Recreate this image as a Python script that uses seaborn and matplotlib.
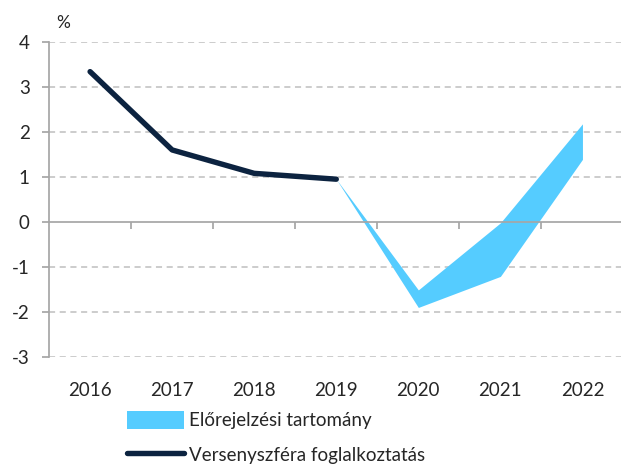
import matplotlib
matplotlib.use("Agg")
import matplotlib.pyplot as plt
import seaborn as sns
import pandas as pd

years = ["2016", "2017", "2018", "2019", "2020", "2021", "2022"]
actual = [3.34, 1.6, 1.08, 0.95]
band_years = ["2019", "2020", "2021", "2022"]
band_low = [0.95, -1.9, -1.21, 1.39]
band_high = [0.95, -1.51, -0.02, 2.18]

sns.set_theme(style="white")
plt.rcParams["font.family"] = ["Lato", "DejaVu Sans"]

pos = {y: i for i, y in enumerate(years)}
df_line = pd.DataFrame({"x": [pos[y] for y in years[:len(actual)]], "v": actual})
bx = [pos[y] for y in band_years]

fig = plt.figure(figsize=(6.21, 4.66), dpi=100)
ax = fig.add_axes([0.079, 0.234, 0.925, 0.676])

ax.fill_between(bx, band_low, band_high, color="#55ccff", linewidth=0,
                label="Előrejelzési tartomány", zorder=2)
sns.lineplot(data=df_line, x="x", y="v", ax=ax, color="#0c2340", linewidth=3.9,
             label="Versenyszféra foglalkoztatás", zorder=3,
             solid_capstyle="round")

ax.set_xlim(-0.5, 6.5)
ax.set_ylim(-3, 4)
ax.set_yticks(range(-3, 5))
ax.set_yticklabels([str(v) for v in range(-3, 5)], fontsize=13.5)
for v in range(-3, 5):
    if v != 0:
        ax.axhline(v, color="#bfbfbf", linestyle=(0, (4, 3)), linewidth=1.1, zorder=1)

for s in ["top", "right"]:
    ax.spines[s].set_visible(False)
ax.spines["left"].set_color("#a6a6a6")
ax.spines["bottom"].set_color("#a6a6a6")
ax.spines["bottom"].set_position(("data", 0))
ax.tick_params(axis="y", length=5, color="#a6a6a6", pad=9, left=True)
ax.set_xticks([i + 0.5 for i in range(6)])
ax.set_xticklabels([])
ax.tick_params(axis="x", length=5, color="#a6a6a6", direction="out", bottom=True)

sec = ax.secondary_xaxis("bottom")
sec.set_xticks(range(len(years)))
sec.set_xticklabels(years, fontsize=13.5)
sec.tick_params(length=0, pad=18)
sec.spines["bottom"].set_visible(False)

ax.set_xlabel("")
ax.set_ylabel("")
ax.text(0.012, 1.035, "%", transform=ax.transAxes, fontsize=12.5, ha="left", va="bottom")

handles, labels = ax.get_legend_handles_labels()
ax.get_legend().remove()
fig.legend(handles, labels, loc="upper left", bbox_to_anchor=(0.193, 0.134),
           frameon=False, fontsize=13.5, handlelength=3.0, handleheight=1.1,
           labelspacing=0.85, handletextpad=0.3, borderaxespad=0)

fig.savefig("out.png", dpi=100)
